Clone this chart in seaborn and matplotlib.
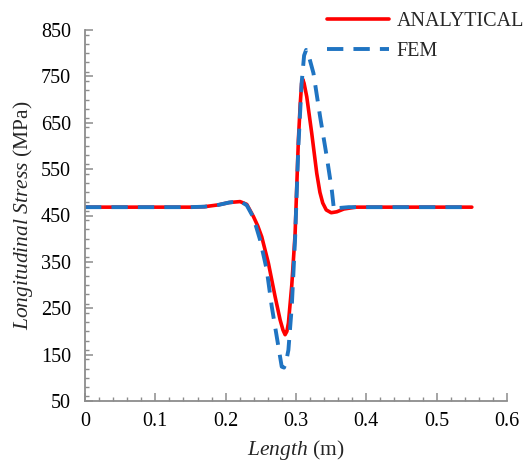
import numpy as np
import pandas as pd
import matplotlib
matplotlib.use("Agg")
import matplotlib.pyplot as plt
import seaborn as sns
from matplotlib.ticker import MultipleLocator

# Data
analytical_x = [0, 0.05, 0.10, 0.15, 0.17, 0.19, 0.205, 0.2205, 0.230, 0.2394, 0.2455, 0.2513, 0.2608,
                0.2703, 0.2774, 0.2815, 0.2845, 0.2870, 0.2892, 0.2940, 0.2987, 0.3034, 0.3060, 0.3080,
                0.3095, 0.3115, 0.3153, 0.3224, 0.3295, 0.3340, 0.3380, 0.3430, 0.3500, 0.3580, 0.3680,
                0.385, 0.45, 0.50, 0.55]
analytical_y = [468, 468, 468, 468, 469, 473, 478, 480, 474, 448, 428, 404, 347,
                275, 225, 203, 193, 200, 218, 300, 410, 613, 690, 735,
                744, 735, 706, 627, 541, 500, 477, 462, 456, 458, 464,
                468, 468, 468, 468]

fem_x = [0, 0.05, 0.10, 0.15, 0.17, 0.19, 0.205, 0.2205, 0.230, 0.2394, 0.2490, 0.2584, 0.2655,
         0.2726, 0.2797, 0.2830, 0.2860, 0.2892, 0.2940, 0.2987, 0.3034, 0.3080, 0.3115, 0.3144,
         0.3180, 0.3248, 0.3343, 0.3437, 0.3509, 0.3540, 0.3600, 0.3750, 0.40, 0.45, 0.50, 0.55]
fem_y = [468, 468, 468, 468, 469, 473, 478, 481, 472, 446, 397, 333, 254,
         189, 124, 122, 135, 160, 254, 400, 600, 735, 795, 807,
         795, 757, 663, 577, 505, 462, 466, 468, 468, 468, 468, 468]

series_names = ["ANALYTICAL", "FEM"]
x_ticks = [0, 0.1, 0.2, 0.3, 0.4, 0.5, 0.6]
y_ticks = [50, 150, 250, 350, 450, 550, 650, 750, 850]

sns.set_style("white")
plt.rcParams['font.family'] = ['Liberation Serif', 'DejaVu Serif']
plt.rcParams['mathtext.fontset'] = 'custom'
plt.rcParams['mathtext.rm'] = 'Liberation Serif'
plt.rcParams['mathtext.it'] = 'Liberation Serif:italic'

df = pd.concat([
    pd.DataFrame({"x": analytical_x, "y": analytical_y, "series": series_names[0]}),
    pd.DataFrame({"x": fem_x, "y": fem_y, "series": series_names[1]}),
])

fig = plt.figure(figsize=(5.23, 4.68), dpi=100)
ax = fig.add_axes([85/523, 67/468, (507-85)/523, (401-30)/468])

sns.lineplot(data=df[df.series == "ANALYTICAL"], x="x", y="y", ax=ax, color="#FF0000",
             linewidth=2.6, sort=False, label="ANALYTICAL")
sns.lineplot(data=df[df.series == "FEM"], x="x", y="y", ax=ax, color="#1F74C2",
             linewidth=2.8, sort=False, label="FEM", dashes=False)
ax.lines[1].set_dashes([4.2, 2.6])

ax.set_xlim(0, 0.6)
ax.set_ylim(50, 850)
ax.set_xticks(x_ticks)
ax.set_xticklabels([("%g" % t) for t in x_ticks])
ax.set_yticks(y_ticks)
ax.xaxis.set_minor_locator(MultipleLocator(0.02))
ax.yaxis.set_minor_locator(MultipleLocator(20))

for s in ["top", "right"]:
    ax.spines[s].set_visible(False)
for s in ["left", "bottom"]:
    ax.spines[s].set_color("#8C8C8C")
    ax.spines[s].set_linewidth(1.3)

ax.tick_params(axis="both", which="major", direction="in", length=6, width=1.1,
               color="#8C8C8C", labelsize=14.5, labelcolor="black")
ax.tick_params(axis="both", which="minor", direction="in", length=3, width=1.0,
               color="#8C8C8C")
ax.tick_params(axis="y", which="both", left=True, pad=10)
ax.tick_params(axis="x", which="both", bottom=True, pad=8)

ax.set_xlabel(r"$Length$ (m)", fontsize=15.5, labelpad=5)
ax.set_ylabel(r"$Longitudinal\ Stress$ (MPa)", fontsize=15.5, labelpad=4)

leg = ax.legend(loc="upper left", bbox_to_anchor=(327/523, 1 - 12/468),
                bbox_transform=fig.transFigure, frameon=False, fontsize=14.5,
                handlelength=3.1, labelspacing=0.55, handletextpad=0.35, borderaxespad=0,
                borderpad=0)

fig.savefig("out.png", dpi=100)
